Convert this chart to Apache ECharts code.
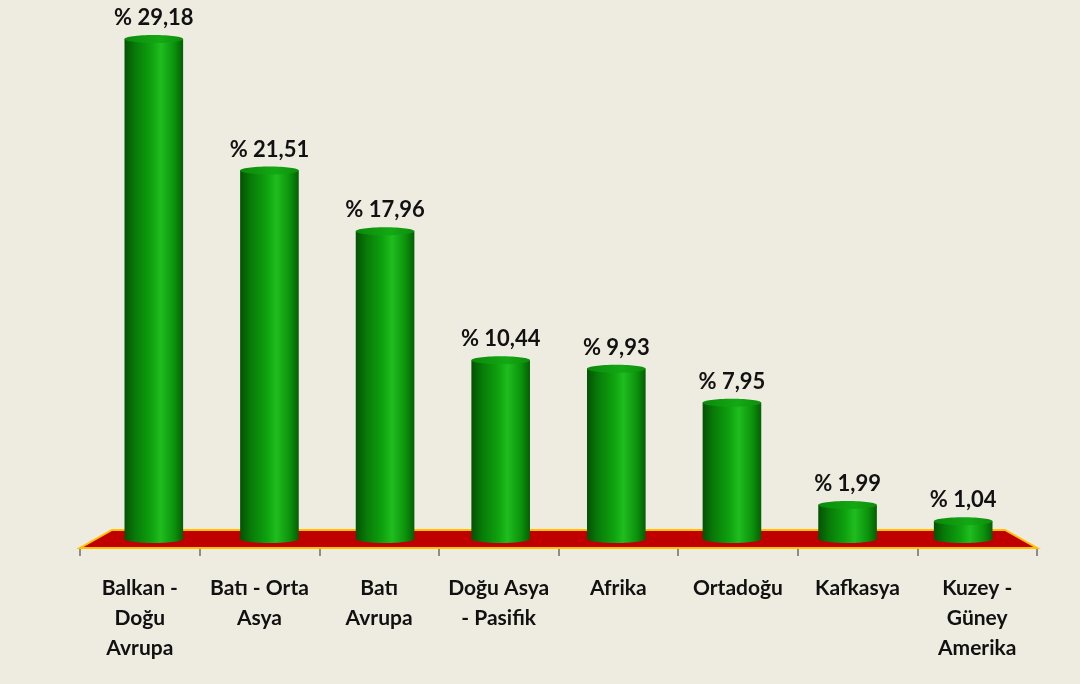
<!DOCTYPE html>
<html>
<head>
<meta charset="utf-8">
<script src="https://cdn.jsdelivr.net/npm/echarts@6/dist/echarts.min.js"></script>
<style>
  html, body { margin: 0; padding: 0; background: #eeebe0; }
  #chart { width: 1080px; height: 684px; }
</style>
</head>
<body>
<div id="chart"></div>
<script>
// bölgelere göre pay (%)
const categories = [
  'Balkan -\nDoğu\nAvrupa',
  'Batı - Orta\nAsya',
  'Batı\nAvrupa',
  'Doğu Asya\n- Pasifik',
  'Afrika',
  'Ortadoğu',
  'Kafkasya',
  'Kuzey -\nGüney\nAmerika'
]
const shares = [29.18, 21.51, 17.96, 10.44, 9.93, 7.95, 1.99, 1.04]
const valueMax = 30

const FLOOR_DEPTH = 18   // px, height of the red floor
const FLOOR_INSET = 32   // px, perspective inset of floor back edge
const FONT = 'Lato, "Open Sans", sans-serif'

const sideFill = {
  type: 'linear', x: 0, y: 0, x2: 1, y2: 0,
  colorStops: [
    { offset: 0, color: '#045204' },
    { offset: 0.18, color: '#087a08' },
    { offset: 0.45, color: '#0ea10e' },
    { offset: 0.62, color: '#1fbd1f' },
    { offset: 0.85, color: '#0b920b' },
    { offset: 1, color: '#055e05' }
  ]
}
const topFill = {
  type: 'linear', x: 0, y: 0, x2: 1, y2: 0,
  colorStops: [
    { offset: 0, color: '#0a8a0a' },
    { offset: 0.6, color: '#14a814' },
    { offset: 1, color: '#0b8f0b' }
  ]
}

const formatShare = v => '% ' + v.toFixed(2).replace('.', ',')

// kırmızı zemin
const renderFloor = (params, api) => {
  const bw = api.size([1, 0])[0]
  const first = api.coord([0, 0])
  const last = api.coord([categories.length - 1, 0])
  const left = first[0] - bw / 2
  const right = last[0] + bw / 2
  const y = first[1]
  return {
    type: 'polygon',
    shape: {
      points: [
        [left, y],
        [right, y],
        [right - FLOOR_INSET, y - FLOOR_DEPTH],
        [left + FLOOR_INSET, y - FLOOR_DEPTH]
      ]
    },
    style: { fill: '#c00000', stroke: '#ffc000', lineWidth: 2 }
  }
}

// silindir çubuklar
const renderCylinder = (params, api) => {
  const cs = params.coordSys
  const mid = cs.x + cs.width / 2
  const bw = api.size([1, 0])[0]
  const base = api.coord([api.value(0), 0])
  const top = api.coord([api.value(0), api.value(1)])
  const shrink = 1 - FLOOR_INSET / cs.width
  const cx = mid + (base[0] - mid) * shrink
  const w = bw * 0.49
  const y0 = base[1] - FLOOR_DEPTH / 2
  const y1 = top[1] - FLOOR_DEPTH / 2
  const ry = 4
  return {
    type: 'group',
    children: [
      { type: 'ellipse', shape: { cx: cx, cy: y0, rx: w / 2, ry: ry }, style: { fill: sideFill } },
      { type: 'rect', shape: { x: cx - w / 2, y: y1, width: w, height: y0 - y1 }, style: { fill: sideFill } },
      { type: 'ellipse', shape: { cx: cx, cy: y1, rx: w / 2, ry: ry }, style: { fill: topFill } },
      {
        type: 'text',
        style: {
          text: formatShare(api.value(1)),
          x: cx,
          y: y1 - 21,
          align: 'center',
          verticalAlign: 'middle',
          fontFamily: FONT,
          fontWeight: 'bold',
          fontSize: 22,
          fill: '#111111'
        }
      }
    ]
  }
}

const chart = echarts.init(document.getElementById('chart'))
chart.setOption({
  backgroundColor: '#eeebe0',
  animation: false,
  grid: { left: 80, right: 43, top: 34, bottom: 136 },
  xAxis: {
    type: 'category',
    data: categories,
    axisLine: { show: false },
    axisTick: { show: true, length: 8, lineStyle: { color: '#8c8c8c', width: 2 } },
    axisLabel: {
      interval: 0,
      margin: 25,
      fontFamily: FONT,
      fontWeight: 'bold',
      fontSize: 21,
      lineHeight: 30,
      color: '#111111'
    }
  },
  yAxis: {
    type: 'value',
    min: 0,
    max: valueMax,
    show: false,
    splitLine: { show: false }
  },
  series: [
    {
      type: 'custom',
      z: 1,
      renderItem: renderFloor,
      data: [[0, 0]]
    },
    {
      type: 'custom',
      z: 2,
      renderItem: renderCylinder,
      data: shares.map((v, i) => [i, v])
    }
  ]
})
</script>
</body>
</html>
